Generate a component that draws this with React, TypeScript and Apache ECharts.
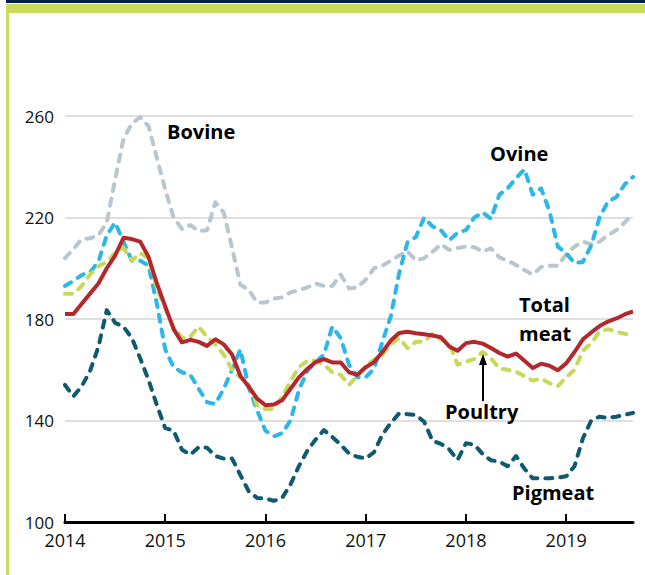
import React, { useEffect, useRef } from "react";
import * as echarts from "echarts";

// Monthly index prices, Jan 2014 .. Sep 2019
const startYear = 2014;
const yearTicks = [2014, 2015, 2016, 2017, 2018, 2019];
const yTicks = [100, 140, 180, 220, 260];

const totalMeat = [
  182, 182, 186, 190, 194, 200, 205, 212, 211.5, 210.5, 204.5, 194,
  185, 176, 170.8, 171.8, 171, 169.4, 172, 170, 166, 157.5, 153.3, 148.6,
  146, 146.3, 148, 152.5, 157, 160.3, 163, 164.2, 162.9, 162.9, 159, 158,
  161, 163, 167, 171.5, 174.5, 175, 174.4, 174, 173.5, 172.8, 169.2, 167.5,
  170.5, 171, 170.3, 168.6, 166.6, 165.2, 166.4, 163.5, 160.7, 162.4, 161.6, 159.8,
  162.5, 167, 172, 174.7, 177.2, 179, 180.2, 181.8, 183,
];
const poultry = [
  190, 190, 193, 197.5, 200.8, 202.5, 206, 208, 203, 206, 204, 192,
  184, 177, 172.5, 173, 177, 173, 170, 166, 160, 157, 154, 146,
  144.5, 144.5, 149.5, 155.5, 161, 163.5, 163.5, 162, 159, 158, 154, 157.5,
  161.5, 164, 166, 170, 172.5, 168.5, 171, 171, 174.2, 172, 170.5, 162,
  163.2, 164.2, 167, 164.5, 160.5, 160, 159.2, 157.5, 155.7, 156.5, 154.7, 153.5,
  157, 160, 167.5, 170.5, 175, 176, 175, 174.2, 173.5,
];
const ovine = [
  193, 195, 197.3, 198.5, 202.5, 213, 218, 210.5, 203, 203, 201, 186,
  168, 161, 159, 158, 152.5, 147.2, 146.5, 152.5, 160, 168, 153, 144,
  136, 133.8, 135, 140, 152, 159.4, 163, 166, 177, 172.5, 162, 157,
  157, 160.5, 171, 181, 198, 210.3, 212.3, 220, 216.5, 215, 211, 214,
  215, 220, 222, 219.5, 229, 231.5, 235.5, 239, 229, 231.5, 222.5, 208.5,
  206, 202, 202.5, 209, 220, 226.3, 228, 233, 236,
];
const bovine = [
  204, 207.5, 211.5, 211.8, 213, 218, 235, 251, 257, 259.5, 256, 243.5,
  231, 220, 215.5, 217, 214.6, 215, 226, 222, 208, 193.5, 191.5, 186.5,
  186.5, 188, 188.5, 190.5, 191.4, 192.4, 194, 193, 193, 197.5, 192, 192.5,
  195.5, 200, 201, 203, 205, 206.7, 203, 204, 206.5, 209.5, 207.2, 208,
  208.5, 208.3, 206.6, 207.8, 204.3, 203, 201.3, 199.3, 197.5, 200.5, 201, 201,
  205.5, 208.5, 210.5, 209.4, 210.5, 213, 215, 218, 221.5,
];
const pigmeat = [
  154, 149.5, 153.5, 159.5, 169, 183.5, 178.5, 177, 172.5, 164.5, 156, 146,
  137, 136, 128.5, 126.5, 129.5, 129.3, 126, 125, 125, 118.5, 112, 109.5,
  109.3, 108.3, 109.5, 114.8, 122, 128, 132.5, 136.2, 133.5, 130.5, 127, 125.7,
  125, 127.5, 134.5, 139, 142.8, 142.5, 142.2, 139.5, 132, 130.8, 128.6, 124.5,
  131, 130.5, 126.8, 124.3, 123.8, 122, 126, 121, 117.2, 117.2, 117.2, 117.5,
  118, 122, 133, 140, 141.5, 141, 141.5, 142.2, 143,
];

const FONT = "'Open Sans', 'Noto Sans', sans-serif";
const NAVY = "#001f4e";
const LIME = "#c9da5c";

const toPairs = (vals: number[]) => vals.map((v, i) => [startYear + i / 12, v]);

export default function App() {
  const ref = useRef<HTMLDivElement>(null);
  useEffect(() => {
    if (!ref.current) return;
    const chart = echarts.init(ref.current, null, { renderer: "svg" });
    const dashed = (color: string) => ({
      color,
      width: 4,
      type: [7, 8] as any,
      cap: "round" as const,
      join: "round" as const,
    });
    const textEl = (text: string, x: number, y: number, size = 20) => ({
      type: "text",
      x,
      y,
      z: 100,
      style: {
        text,
        font: `bold ${size}px ${FONT}`,
        fill: "#000",
        textAlign: "left",
        textVerticalAlign: "middle",
      },
    });
    const n = totalMeat.length;
    chart.setOption({
      animation: false,
      backgroundColor: "#fff",
      grid: { left: 65, top: 116, width: 568, height: 406 },
      xAxis: {
        type: "value",
        min: startYear,
        max: startYear + (n - 1) / 12,
        interval: 1,
        axisLine: { lineStyle: { color: "#000", width: 3 } },
        axisTick: {
          inside: true,
          length: 8,
          customValues: yearTicks,
          lineStyle: { color: "#000", width: 2 },
        },
        axisLabel: {
          customValues: yearTicks,
          formatter: (v: number) => String(Math.round(v)),
          fontSize: 18,
          fontFamily: FONT,
          color: "#111",
          margin: 9,
        },
        splitLine: { show: false },
      },
      yAxis: {
        type: "value",
        min: yTicks[0],
        max: yTicks[yTicks.length - 1],
        interval: 40,
        axisLine: { show: false },
        axisTick: { show: false },
        axisLabel: { fontSize: 17, fontFamily: FONT, color: "#111", margin: 11 },
        splitLine: { lineStyle: { color: "#d4d4d4", width: 1.5 } },
      },
      series: [
        { name: "Bovine", type: "line", symbol: "none", data: toPairs(bovine), lineStyle: dashed("#b9c6ce"), z: 2 },
        { name: "Ovine", type: "line", symbol: "none", data: toPairs(ovine), lineStyle: dashed("#2cb7ea"), z: 3 },
        { name: "Pigmeat", type: "line", symbol: "none", data: toPairs(pigmeat), lineStyle: dashed("#0f5a70"), z: 4 },
        { name: "Poultry", type: "line", symbol: "none", data: toPairs(poultry), lineStyle: dashed("#c8d95a"), z: 5 },
        {
          name: "Total meat",
          type: "line",
          symbol: "none",
          data: toPairs(totalMeat),
          lineStyle: { color: "#b3282d", width: 4, type: "solid", join: "round" },
          z: 6,
        },
      ],
      graphic: [
        { type: "rect", shape: { x: 6, y: 0, width: 639, height: 3 }, style: { fill: NAVY }, silent: true },
        { type: "rect", shape: { x: 6, y: 4, width: 639, height: 9 }, style: { fill: LIME }, silent: true },
        { type: "rect", shape: { x: 6, y: 4, width: 3, height: 571 }, style: { fill: LIME }, silent: true },
        textEl("Bovine", 167, 131),
        textEl("Ovine", 490, 153),
        textEl("Total", 519, 304),
        textEl("meat", 519, 333),
        textEl("Poultry", 445, 411),
        textEl("Pigmeat", 512, 492),
        {
          type: "line",
          shape: { x1: 483, y1: 401, x2: 483, y2: 362 },
          style: { stroke: "#000", lineWidth: 2 },
          z: 100,
        },
        {
          type: "polygon",
          shape: { points: [[483, 354], [479, 365], [487, 365]] },
          style: { fill: "#000" },
          z: 100,
        },
      ],
    });
    return () => chart.dispose();
  }, []);
  return (
    <div
      ref={ref}
      style={{ position: "absolute", left: 0, top: 0, width: 645, height: 575, background: "#fff" }}
    />
  );
}
